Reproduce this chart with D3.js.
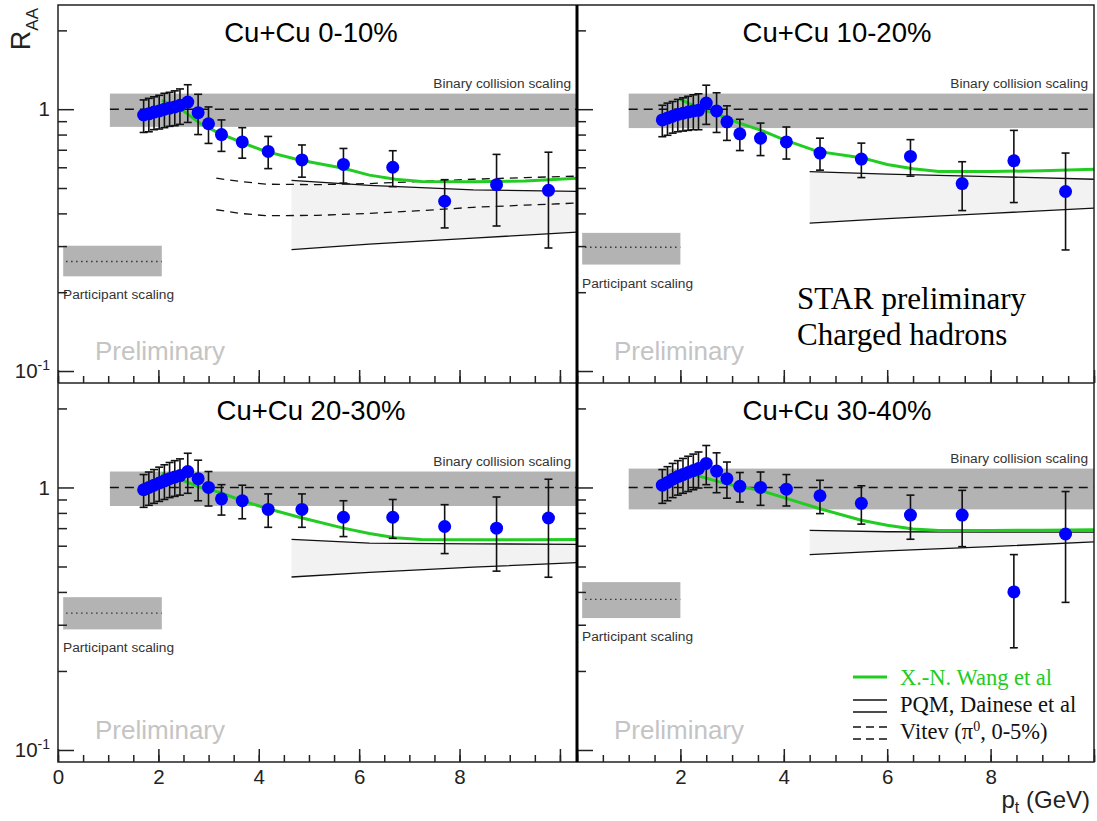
<!DOCTYPE html>
<html>
<head>
<meta charset="utf-8">
<script src="https://cdn.jsdelivr.net/npm/d3@7"></script>
<style>
  body { margin: 0; background: #fff; }
  svg { display: block; }
  text { font-family: "Liberation Sans", Arial, Helvetica, sans-serif; }
  .serif { font-family: "Liberation Serif", "Times New Roman", serif; }
</style>
</head>
<body>
<svg width="1097" height="821"></svg>
<script>
// ---- data ----
const titles = ["Cu+Cu 0-10%", "Cu+Cu 10-20%", "Cu+Cu 20-30%", "Cu+Cu 30-40%"];
const ptVals = [1.65, 1.75, 1.85, 1.95, 2.05, 2.15, 2.25, 2.35, 2.5, 2.7, 2.9, 3.15, 3.55, 4.05, 4.7, 5.5, 6.45, 7.45, 8.45, 9.45];

const raa0_10  = [0.95, 0.96, 0.975, 0.985, 1.0, 1.01, 1.02, 1.035, 1.065, 0.97, 0.88, 0.80, 0.75, 0.69, 0.64, 0.615, 0.60, 0.445, 0.515, 0.49];
const err0_10  = [0.135, 0.14, 0.14, 0.145, 0.15, 0.15, 0.155, 0.16, 0.175, 0.17, 0.14, 0.11, 0.10, 0.097, 0.09, 0.093, 0.094, 0.093, 0.157, 0.195];
const raa10_20 = [0.91, 0.925, 0.94, 0.955, 0.965, 0.975, 0.985, 0.99, 1.055, 0.985, 0.895, 0.805, 0.775, 0.75, 0.68, 0.645, 0.66, 0.52, 0.635, 0.485];
const err10_20 = [0.125, 0.13, 0.13, 0.135, 0.14, 0.145, 0.15, 0.155, 0.18, 0.17, 0.135, 0.11, 0.11, 0.105, 0.095, 0.097, 0.105, 0.11, 0.195, 0.195];
const raa20_30 = [0.98, 1.0, 1.02, 1.04, 1.06, 1.08, 1.095, 1.11, 1.15, 1.08, 1.0, 0.905, 0.89, 0.825, 0.825, 0.77, 0.77, 0.71, 0.70, 0.765];
const err20_30 = [0.14, 0.145, 0.15, 0.155, 0.16, 0.165, 0.17, 0.175, 0.2, 0.19, 0.15, 0.12, 0.13, 0.12, 0.12, 0.12, 0.13, 0.15, 0.22, 0.31];
const raa30_40 = [1.02, 1.045, 1.075, 1.1, 1.12, 1.14, 1.16, 1.18, 1.235, 1.155, 1.08, 1.01, 1.0, 0.985, 0.93, 0.87, 0.785, 0.785, 0.40, 0.665];
const err30_40 = [0.15, 0.155, 0.16, 0.165, 0.17, 0.175, 0.18, 0.185, 0.21, 0.2, 0.17, 0.13, 0.145, 0.135, 0.135, 0.145, 0.15, 0.19, 0.155, 0.3];

// X.-N. Wang et al curves
const wangPt    = [2.0, 2.4, 2.75, 3.1, 3.55, 4.0, 4.65, 5.5, 6.0, 6.5, 7.0, 8.0, 9.0, 10.0];
const wang0_10  = [1.08, 0.99, 0.88, 0.81, 0.745, 0.69, 0.64, 0.595, 0.56, 0.54, 0.53, 0.528, 0.532, 0.545];
const wang10_20 = [1.09, 1.0, 0.95, 0.89, 0.832, 0.765, 0.69, 0.653, 0.615, 0.592, 0.578, 0.578, 0.582, 0.59];
const wang20_30 = [1.13, 1.065, 1.0, 0.96, 0.89, 0.835, 0.77, 0.70, 0.668, 0.643, 0.634, 0.632, 0.632, 0.634];
const wang30_40 = [1.14, 1.10, 1.05, 1.01, 0.975, 0.915, 0.835, 0.75, 0.718, 0.695, 0.686, 0.686, 0.687, 0.69];

// PQM, Dainese et al bands
const pqmPt     = [4.5, 6, 8, 10];
const pqmHi0_10 = [0.535, 0.512, 0.492, 0.485];
const pqmLo0_10 = [0.291, 0.305, 0.322, 0.339];
const pqmHi10_20 = [0.578, 0.565, 0.553, 0.540];
const pqmLo10_20 = [0.367, 0.382, 0.40, 0.419];
const pqmHi20_30 = [0.634, 0.614, 0.61, 0.607];
const pqmLo20_30 = [0.456, 0.475, 0.497, 0.517];
const pqmHi30_40 = [0.686, 0.678, 0.676, 0.676];
const pqmLo30_40 = [0.555, 0.573, 0.595, 0.62];

// Vitev (pi0, 0-5%), first panel only
const vitevPt = [3.05, 3.5, 4, 5, 6, 7, 8, 9, 10];
const vitevHi = [0.545, 0.53, 0.517, 0.515, 0.52, 0.53, 0.54, 0.548, 0.555];
const vitevLo = [0.413, 0.40, 0.392, 0.393, 0.40, 0.41, 0.422, 0.43, 0.438];

// binary collision scaling band [lo, hi], participant scaling box [lo, mid, hi]
const binaryBand = [[0.856, 1.147], [0.847, 1.147], [0.85, 1.15], [0.825, 1.18]];
const partBox = [[0.23, 0.262, 0.301], [0.255, 0.297, 0.337], [0.288, 0.332, 0.382], [0.318, 0.375, 0.436]];

const xLabels = [[0, 2, 4, 6, 8], [2, 4, 6, 8]];
const yMajor = [0.1, 1];
const yMinor = [0.2, 0.3, 0.4, 0.5, 0.6, 0.7, 0.8, 0.9, 2];

const legendItems = [
  { label: "X.-N. Wang et al", kind: "wang" },
  { label: "PQM, Dainese et al", kind: "pqm" },
  { label: "Vitev (π", kind: "vitev" }
];

// ---- layout ----
const svg = d3.select("svg");
const colX = [[58, 577], [577, 1094]];
const rowY = [[5, 383], [383, 762]];
const axisMax = [10.34, 10];      // left column axis is drawn on a slightly wider range
const titleCx = [311, 837];
const green = "#22cc22";

const raaSets = [raa0_10, raa10_20, raa20_30, raa30_40];
const errSets = [err0_10, err10_20, err20_30, err30_40];
const wangSets = [wang0_10, wang10_20, wang20_30, wang30_40];
const pqmHiSets = [pqmHi0_10, pqmHi10_20, pqmHi20_30, pqmHi30_40];
const pqmLoSets = [pqmLo0_10, pqmLo10_20, pqmLo20_30, pqmLo30_40];

titles.forEach(function(title, i) {
  const col = i % 2, row = Math.floor(i / 2);
  const g = svg.append("g");
  const x = d3.scaleLinear().domain([0, 10]).range(colX[col]);
  const xa = d3.scaleLinear().domain([0, axisMax[col]]).range(colX[col]);
  const y = d3.scaleLog().domain([0.09, 2.5]).range([rowY[row][1], rowY[row][0]]);

  // binary collision band + line at 1
  const bb = binaryBand[i];
  g.append("rect").attr("x", x(1)).attr("width", x(10) - x(1))
    .attr("y", y(bb[1])).attr("height", y(bb[0]) - y(bb[1])).attr("fill", "#b3b3b3");
  g.append("line").attr("x1", x(1)).attr("x2", x(10)).attr("y1", y(1)).attr("y2", y(1))
    .attr("stroke", "#111").attr("stroke-width", 1.5).attr("stroke-dasharray", "9,6");

  // participant scaling box
  const pb = partBox[i];
  g.append("rect").attr("x", x(0.1)).attr("width", x(2) - x(0.1))
    .attr("y", y(pb[2])).attr("height", y(pb[0]) - y(pb[2])).attr("fill", "#b3b3b3");
  g.append("line").attr("x1", x(0.1) + 3).attr("x2", x(2)).attr("y1", y(pb[1])).attr("y2", y(pb[1]))
    .attr("stroke", "#222").attr("stroke-width", 1.3).attr("stroke-dasharray", "1.3,3.7");

  // PQM band
  const pqm = pqmPt.map((p, k) => [p, pqmHiSets[i][k], pqmLoSets[i][k]]);
  g.append("path").datum(pqm).attr("fill", "#f2f2f2")
    .attr("d", d3.area().x(d => x(d[0])).y0(d => y(d[2])).y1(d => y(d[1])));
  [1, 2].forEach(function(k) {
    g.append("path").datum(pqm).attr("fill", "none").attr("stroke", "#111").attr("stroke-width", 1.3)
      .attr("d", d3.line().x(d => x(d[0])).y(d => y(d[k])));
  });

  // Vitev
  if (i === 0) {
    [vitevHi, vitevLo].forEach(function(arr) {
      g.append("path").datum(vitevPt.map((p, k) => [p, arr[k]])).attr("fill", "none")
        .attr("stroke", "#111").attr("stroke-width", 1.3).attr("stroke-dasharray", "8,6")
        .attr("d", d3.line().x(d => x(d[0])).y(d => y(d[1])));
    });
  }

  // X.-N. Wang
  g.append("path").datum(wangPt.map((p, k) => [p, wangSets[i][k]])).attr("fill", "none")
    .attr("stroke", green).attr("stroke-width", 3)
    .attr("d", d3.line().x(d => x(d[0])).y(d => y(d[1])));

  // data
  const pts = ptVals.map((p, k) => ({ pt: p, v: raaSets[i][k], e: errSets[i][k] }));
  const eb = g.append("g").attr("stroke", "#111").attr("stroke-width", 1.6);
  pts.forEach(function(d) {
    eb.append("line").attr("x1", x(d.pt)).attr("x2", x(d.pt)).attr("y1", y(d.v - d.e)).attr("y2", y(d.v + d.e));
    [d.v - d.e, d.v + d.e].forEach(function(v) {
      eb.append("line").attr("x1", x(d.pt) - 4).attr("x2", x(d.pt) + 4).attr("y1", y(v)).attr("y2", y(v));
    });
  });
  g.append("g").selectAll("circle").data(pts).enter().append("circle")
    .attr("cx", d => x(d.pt)).attr("cy", d => y(d.v)).attr("r", 6.5).attr("fill", "#0000ff");

  // texts
  g.append("text").attr("x", titleCx[col]).attr("y", rowY[row][0] + 37).attr("text-anchor", "middle")
    .attr("font-size", 27.5).text(title);
  g.append("text").attr("x", colX[col][1] - 6).attr("y", y(bb[1]) - 6).attr("text-anchor", "end")
    .attr("font-size", 13.7).attr("fill", "#333").text("Binary collision scaling");
  g.append("text").attr("x", colX[col][0] + 5).attr("y", y(pb[0]) + 23)
    .attr("font-size", 13.7).attr("fill", "#333").text("Participant scaling");
  g.append("text").attr("x", colX[col][0] + 37).attr("y", rowY[row][1] - 23)
    .attr("font-size", 26).attr("fill", "#c4c4c4").text("Preliminary");

  // x axis
  const xg = g.append("g").attr("transform", "translate(0," + rowY[row][1] + ")");
  xg.append("g").call(d3.axisBottom(xa).tickValues(d3.range(0, 10.01, 0.5)).tickSize(-7).tickFormat(""));
  xg.append("g").call(d3.axisBottom(xa).tickValues([0, 2, 4, 6, 8, 10]).tickSize(-13).tickPadding(7)
    .tickFormat(d => (row === 1 && xLabels[col].includes(d)) ? d : ""));

  // y axis
  const yg = g.append("g").attr("transform", "translate(" + colX[col][0] + ",0)");
  yg.append("g").call(d3.axisLeft(y).tickValues(yMinor).tickSize(-9).tickFormat(""));
  const ym = yg.append("g").call(d3.axisLeft(y).tickValues(yMajor).tickSize(-16).tickPadding(8)
    .tickFormat(d => col === 0 ? (d === 1 ? "1" : "10") : ""));
  if (col === 0) {
    ym.selectAll(".tick text").filter(d => d === 0.1)
      .append("tspan").attr("dy", "-0.55em").attr("font-size", 14).text("-1");
  }

  [xg, yg].forEach(function(a) {
    a.selectAll(".domain").remove();
    a.selectAll(".tick line").attr("stroke", "#222").attr("stroke-width", 1.5);
    a.selectAll(".tick text").attr("font-size", 20.5).attr("fill", "#222")
      .attr("font-family", "'Liberation Sans', Arial, Helvetica, sans-serif");
  });
});

// frame
svg.append("rect").attr("x", 58).attr("y", 5).attr("width", 1036).attr("height", 757)
  .attr("fill", "none").attr("stroke", "#222").attr("stroke-width", 1.5);
svg.append("line").attr("x1", 58).attr("x2", 1094).attr("y1", 383).attr("y2", 383)
  .attr("stroke", "#222").attr("stroke-width", 1.5);
svg.append("line").attr("x1", 577).attr("x2", 577).attr("y1", 5).attr("y2", 762)
  .attr("stroke", "#000").attr("stroke-width", 3);

// axis titles
const ylab = svg.append("text").attr("transform", "translate(30,8) rotate(-90)")
  .attr("text-anchor", "end").attr("font-size", 27).attr("fill", "#222").text("R");
ylab.append("tspan").attr("dy", 8).attr("font-size", 17).text("AA");

const xlab = svg.append("text").attr("x", 1090).attr("y", 808).attr("text-anchor", "end")
  .attr("font-size", 24).attr("fill", "#222").text("p");
xlab.append("tspan").attr("dy", 5).attr("font-size", 16).text("t");
xlab.append("tspan").attr("dy", -5).text(" (GeV)");

// STAR label
svg.append("text").attr("class", "serif").attr("x", 797).attr("y", 309).attr("font-size", 31).text("STAR preliminary");
svg.append("text").attr("class", "serif").attr("x", 797).attr("y", 345).attr("font-size", 31).text("Charged hadrons");

// legend
const leg = svg.append("g");
legendItems.forEach(function(item, k) {
  const base = 685 + k * 27;
  if (item.kind === "wang") {
    leg.append("line").attr("x1", 853).attr("x2", 887).attr("y1", base - 8).attr("y2", base - 8)
      .attr("stroke", green).attr("stroke-width", 3);
  } else {
    [base - 12, base].forEach(function(ly) {
      leg.append("line").attr("x1", 853).attr("x2", 887).attr("y1", ly).attr("y2", ly)
        .attr("stroke", "#111").attr("stroke-width", 1.3)
        .attr("stroke-dasharray", item.kind === "vitev" ? "8,5" : null);
    });
  }
  const t = leg.append("text").attr("class", "serif").attr("x", 900).attr("y", base)
    .attr("font-size", 22.5).attr("fill", item.kind === "wang" ? green : "#111").text(item.label);
  if (item.kind === "vitev") {
    t.append("tspan").attr("dy", -8).attr("font-size", 14).text("0");
    t.append("tspan").attr("dy", 8).text(", 0-5%)");
  }
});
</script>
</body>
</html>
